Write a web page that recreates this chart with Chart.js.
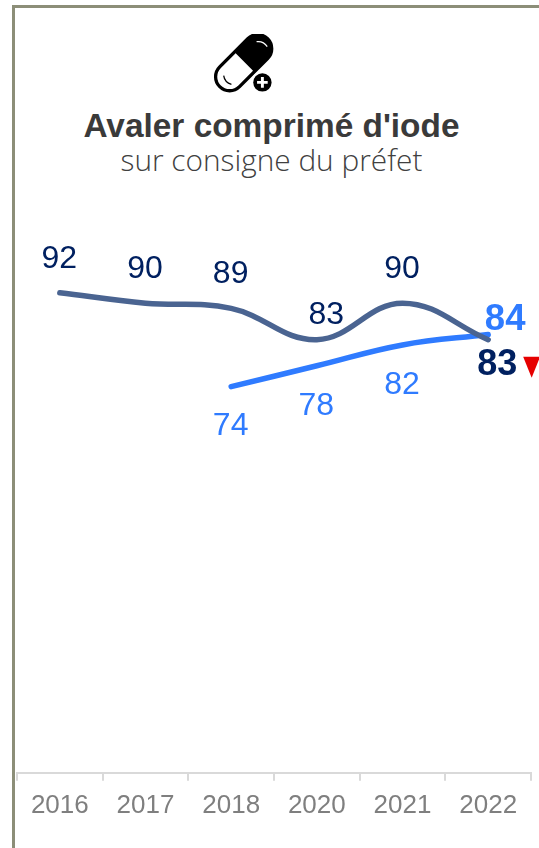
<!DOCTYPE html>
<html><head><meta charset="utf-8">
<script src="https://cdn.jsdelivr.net/npm/chart.js@4/dist/chart.umd.min.js"></script>
<style>
html,body{margin:0;padding:0;background:#fff;overflow:hidden}
#wrap{position:relative;width:539px;height:848px;overflow:hidden}
#frame{position:absolute;left:12px;top:5px;width:540px;height:860px;border-left:3px solid #8c8e78;border-top:3px solid #8c8e78}
#icon{position:absolute;left:213px;top:34px}
.t{position:absolute;left:0;width:543px;text-align:center;white-space:nowrap}
#t1{top:107px;font:bold 33.400px "Liberation Sans",Arial,sans-serif;color:#3a3a3a}
#t2{top:139px;font:300 29.800px "Open Sans",sans-serif;color:#404040}
canvas{position:absolute;left:0;top:0}
</style></head><body>
<div id="wrap">
<div id="frame"></div>
<svg id="icon" width="62" height="60" viewBox="0 0 64 62">
 <g transform="rotate(-45 32 30)">
  <rect x="-3" y="15" width="70" height="29" rx="14.5" fill="#fff" stroke="#000" stroke-width="3.4"/>
  <path d="M33 15H52.500A14.500 14.500 0 0 1 52.500 44H33Z" fill="#000"/>
 </g>
 <path d="M45 8Q52 7 56 13" fill="none" stroke="#fff" stroke-width="1.300"/>
 <path d="M11 43Q12 50 19 52" fill="none" stroke="#000" stroke-width="1.300"/>
 <circle cx="51" cy="50" r="11.500" fill="#fff"/>
 <circle cx="51" cy="50" r="9.500" fill="#000"/>
 <path d="M51 44.500V55.500M45.500 50H56.500" stroke="#fff" stroke-width="3"/>
</svg>
<div class="t" id="t1">Avaler comprimé d'iode</div>
<div class="t" id="t2">sur consigne du préfet</div>
<canvas id="c" width="539" height="848"></canvas>
</div>
<script>
const categories = ["2016","2017","2018","2020","2021","2022"];
const seriesDark = [92,90,89,83,90,83];
const seriesBlue = [null,null,74,78,82,84];

const labelPlugin = {
  id:'labels',
  afterDatasetsDraw(chart){
    const ctx = chart.ctx;
    const dark = chart.getDatasetMeta(0).data, blue = chart.getDatasetMeta(1).data;
    ctx.save();
    ctx.textAlign='center'; ctx.textBaseline='middle';
    const last = categories.length-1;
    seriesDark.forEach((v,i)=>{
      const p = dark[i];
      if(i===last){
        ctx.font='bold 36px "Liberation Sans",Arial,sans-serif'; ctx.fillStyle='#002060';
        ctx.fillText(v,p.x+9,p.y+25.500);
        ctx.fillStyle='#e60000'; ctx.beginPath();
        ctx.moveTo(p.x+35,p.y+17); ctx.lineTo(p.x+52,p.y+17); ctx.lineTo(p.x+43.500,p.y+38); ctx.closePath(); ctx.fill();
      } else {
        ctx.font='32px "Liberation Sans",Arial,sans-serif'; ctx.fillStyle='#002060';
        const dip = v===83;
        ctx.fillText(v,p.x-0.500+(dip?10:0),p.y-(dip?26:35)+1);
      }
    });
    seriesBlue.forEach((v,i)=>{
      if(v===null) return;
      const p = blue[i];
      if(i===last){
        ctx.font='bold 36.500px "Liberation Sans",Arial,sans-serif'; ctx.fillStyle='#2f7bff';
        ctx.fillText(v,p.x+17,p.y-15);
      } else {
        ctx.font='32px "Liberation Sans",Arial,sans-serif'; ctx.fillStyle='#2f7bff';
        ctx.fillText(v,p.x-0.500,p.y+40);
      }
    });
    ctx.restore();
  }
};

new Chart(document.getElementById('c'),{
  type:'line',
  data:{labels:categories,datasets:[
    {data:seriesDark,borderColor:'#4a6491',borderWidth:5.500,tension:0.4,pointRadius:0,borderCapStyle:'round',fill:false},
    {data:seriesBlue,borderColor:'#2f7bff',borderWidth:5.500,tension:0.4,pointRadius:0,borderCapStyle:'round',fill:false}
  ]},
  options:{
    responsive:false,animation:false,devicePixelRatio:1,
    layout:{padding:{left:17,right:8,top:251,bottom:18}},
    plugins:{legend:{display:false},title:{display:false},tooltip:{enabled:false}},
    scales:{
      x:{type:'category',offset:true,
        grid:{display:true,offset:true,drawOnChartArea:false,drawTicks:true,tickLength:8,color:'#d9d9d9',lineWidth:2},
        border:{display:true,color:'#d9d9d9',width:2},
        ticks:{color:'#7f7f7f',font:{family:'"Liberation Sans",Arial,sans-serif',size:26},padding:9,maxRotation:0,autoSkip:false}
      },
      y:{display:false,min:0,max:100}
    }
  },
  plugins:[labelPlugin]
});
</script>
</body></html>
